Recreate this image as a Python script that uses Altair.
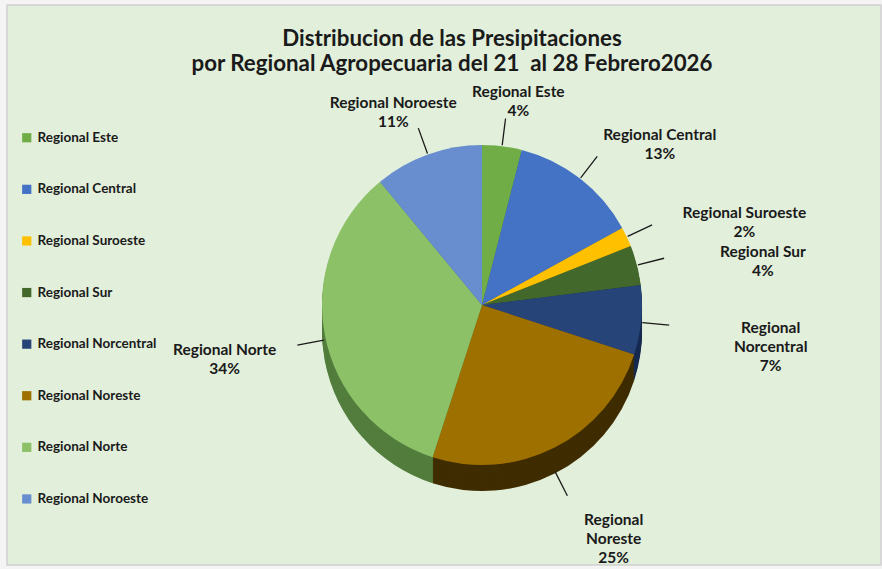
import altair as alt
import pandas as pd

# ---- data ----
regions = ["Regional Este", "Regional Central", "Regional Suroeste", "Regional Sur",
           "Regional Norcentral", "Regional Noreste", "Regional Norte", "Regional Noroeste"]
percent = [4, 13, 2, 4, 7, 25, 34, 11]
label_names = ["Regional Este", "Regional Central", "Regional Suroeste", "Regional Sur",
               "Regional\nNorcentral", "Regional\nNoreste", "Regional Norte", "Regional Noroeste"]
title_lines = ["Distribucion de las Presipitaciones",
               "por Regional Agropecuaria del 21\u00a0 al 28 Febrero2026"]

# ---- styles ----
top_colors = ["#70ad47", "#4472c4", "#ffc000", "#43682b", "#264478", "#9e7000", "#8cc168", "#698ed0"]
side_colors = ["#4a7a2e", "#2c4f8c", "#b88a00", "#2c451c", "#172b50", "#3f2c00", "#527d3c", "#45629a"]
FONT = "Lato"
W, H = 882, 569
CX, CY, R = 482, 305, 160
DEPTH = 26
RX_RIGHT, RX_LEFT, RY_LAB = 290, 262, 215
R_LINE_END = R + 28

df = pd.DataFrame({
    "region": regions,
    "value": percent,
    "idx": list(range(len(regions))),
    "label": [f"{n}\n{p}%" for n, p in zip(label_names, percent)],
    "side": side_colors,
})

base = alt.Chart(df)

theta = alt.Theta("value:Q", stack=True)
order = alt.Order("idx:Q")

layers = []

# chart frame
frame = alt.Chart(pd.DataFrame({"k": [0]})).mark_rect(
    fill="#e2efda", stroke="#d0d0d0", strokeWidth=1.5
).encode(x=alt.value(7), x2=alt.value(W - 1), y=alt.value(5), y2=alt.value(H - 4))
layers.append(frame)

# extruded side of the pie
for d in range(DEPTH, 0, -2):
    layers.append(
        base.mark_arc(radius=R).encode(
            theta=theta, order=order,
            fill=alt.Fill("side:N", scale=None),
            x=alt.value(CX), y=alt.value(CY + d),
        )
    )

# top face
top = base.mark_arc(radius=R).encode(
    theta=theta, order=order,
    color=alt.Color(
        "region:N",
        scale=alt.Scale(domain=regions, range=top_colors),
        sort=regions,
        legend=alt.Legend(
            title=None, orient="none", legendX=20, legendY=131,
            symbolType="square", symbolSize=85, symbolStrokeWidth=0,
            labelFont=FONT, labelFontSize=13.5, labelFontWeight="bold",
            labelColor="#1a1a1a", rowPadding=36.6, labelOffset=4,
            labelLimit=300,
        ),
    ),
    x=alt.value(CX), y=alt.value(CY),
)
layers.append(top)

geo = base.transform_joinaggregate(total="sum(value)").transform_window(
    cum="sum(value)", sort=[alt.SortField("idx")], frame=[None, 0]
).transform_calculate(
    mid="2*PI*(datum.cum - datum.value/2)/datum.total",
).transform_calculate(
    s="sin(datum.mid)", c="cos(datum.mid)",
).transform_calculate(
    drop=f"{DEPTH}*max(0, -datum.c)",
    rx=f"datum.s > 0 ? {RX_RIGHT} : {RX_LEFT}",
).transform_calculate(
    x1=f"{CX} + {R + 1}*datum.s",
    y1=f"{CY} - {R + 1}*datum.c + datum.drop",
    x2=f"{CX} + {R_LINE_END}*datum.s",
    y2=f"{CY} - {R_LINE_END}*datum.c + datum.drop",
    lx=f"{CX} + datum.rx*datum.s",
    ly=f"{CY} - {RY_LAB}*datum.c + datum.drop",
)

leaders = geo.mark_rule(color="#1a1a1a", strokeWidth=1.3).encode(
    x=alt.X("x1:Q", scale=None), y=alt.Y("y1:Q", scale=None),
    x2="x2:Q", y2="y2:Q",
)
layers.append(leaders)

labels = geo.mark_text(
    font=FONT, fontSize=15.5, fontWeight="bold", color="#1a1a1a",
    align="center", baseline="middle", lineBreak="\n", lineHeight=19,
).encode(
    x=alt.X("lx:Q", scale=None), y=alt.Y("ly:Q", scale=None),
    text="label:N",
)
layers.append(labels)

title = alt.Chart(pd.DataFrame({"k": [0]})).mark_text(
    text=title_lines, font=FONT, fontSize=22.3, fontWeight="bold", color="#1a1a1a",
    align="center", baseline="middle", lineHeight=25,
).encode(x=alt.value(452), y=alt.value(39))
layers.append(title)

chart = alt.layer(*layers).properties(
    width=W, height=H, autosize=alt.AutoSizeParams(type="none"), padding=0,
    background="#f4f4f4",
).configure_view(stroke=None)

chart.save("out.html", embed_options={"renderer": "svg", "actions": False})
